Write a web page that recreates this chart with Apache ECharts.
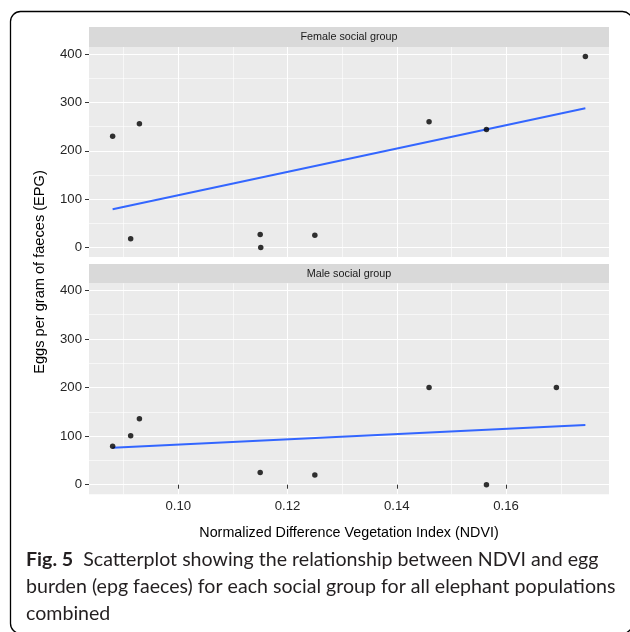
<!DOCTYPE html>
<html>
<head>
<meta charset="utf-8">
<title>NDVI vs EPG</title>
<script src="https://cdn.jsdelivr.net/npm/echarts@6/dist/echarts.min.js"></script>
<style>
    html, body { margin: 0; padding: 0; background: #fff; }
    #main { width: 630px; height: 632px; }
</style>
</head>
<body>
<div id="main"></div>
<script>
// facet labels
var groups = ['Female social group', 'Male social group'];

// NDVI (x) and EPG (y) for each social group
var femaleNdvi = [0.0880, 0.0913, 0.0929, 0.1150, 0.1151, 0.1250, 0.1459, 0.1564, 0.1745];
var femaleEpg  = [230, 18, 256, 27, 0, 25, 260, 244, 395];
var maleNdvi   = [0.0880, 0.0913, 0.0929, 0.1150, 0.1250, 0.1459, 0.1564, 0.1692];
var maleEpg    = [79, 101, 136, 25, 20, 200, 0, 200];

// ends of the fitted lm lines
var fitNdvi      = [0.0880, 0.1745];
var femaleFitEpg = [79, 288];
var maleFitEpg   = [76, 123];

// ticks and minor grid lines
var xTicks = [0.10, 0.12, 0.14, 0.16];
var xMinor = [0.09, 0.11, 0.13, 0.15, 0.17];
var yTicks = [0, 100, 200, 300, 400];
var yMinor = [50, 150, 250, 350];

function pairs(xs, ys) {
    return xs.map(function (x, i) { return [x, ys[i]]; });
}

// ggplot style 5% expansion, same scales in both facets
var allX = femaleNdvi.concat(maleNdvi);
var allY = femaleEpg.concat(maleEpg);
var xLo = Math.min.apply(null, allX), xHi = Math.max.apply(null, allX);
var yLo = Math.min.apply(null, allY), yHi = Math.max.apply(null, allY);
var xMin = xLo - 0.05 * (xHi - xLo), xMax = xHi + 0.05 * (xHi - xLo);
var yMin = yLo - 0.05 * (yHi - yLo), yMax = yHi + 0.05 * (yHi - yLo);

var FONT = 'Liberation Sans, Arial, sans-serif';
var panels = [{top: 47, height: 210, strip: 27}, {top: 283.3, height: 211, strip: 264}];
var PANEL_LEFT = 89, PANEL_W = 520;

var grids = [], xAxes = [], yAxes = [], series = [], graphics = [];

panels.forEach(function (p, g) {
    var bottom = g === 1;
    grids.push({
        left: PANEL_LEFT, top: p.top, width: PANEL_W, height: p.height,
        show: true, backgroundColor: '#EBEBEB', borderWidth: 0
    });
    // major x
    xAxes.push({
        type: 'value', gridIndex: g, min: xMin, max: xMax,
        axisLine: {show: false},
        axisTick: {show: bottom, customValues: xTicks, length: 4, lineStyle: {color: '#333', width: 1}},
        axisLabel: {
            show: bottom, customValues: xTicks, margin: 6,
            color: '#262626', fontSize: 13.2, fontFamily: FONT,
            formatter: function (v) { return v.toFixed(2); }
        },
        splitLine: {show: true, lineStyle: {color: '#fff', width: 1.1}}
    });
    // minor x
    xAxes.push({
        type: 'value', gridIndex: g, min: xMin, max: xMax,
        axisLine: {show: false},
        axisTick: {show: false, customValues: xMinor},
        axisLabel: {show: false, customValues: xMinor},
        splitLine: {show: true, lineStyle: {color: '#fff', width: 0.6}}
    });
    // major y
    yAxes.push({
        type: 'value', gridIndex: g, min: yMin, max: yMax,
        axisLine: {show: false},
        axisTick: {show: true, customValues: yTicks, length: 4, lineStyle: {color: '#333', width: 1}},
        axisLabel: {
            customValues: yTicks, margin: 7,
            color: '#262626', fontSize: 13.2, fontFamily: FONT
        },
        splitLine: {show: true, lineStyle: {color: '#fff', width: 1.1}}
    });
    // minor y
    yAxes.push({
        type: 'value', gridIndex: g, min: yMin, max: yMax,
        axisLine: {show: false},
        axisTick: {show: false, customValues: yMinor},
        axisLabel: {show: false, customValues: yMinor},
        splitLine: {show: true, lineStyle: {color: '#fff', width: 0.6}}
    });

    // facet strip
    graphics.push({
        type: 'rect', silent: true,
        shape: {x: PANEL_LEFT, y: p.strip, width: PANEL_W, height: p.top - p.strip},
        style: {fill: '#D9D9D9'}
    });
    graphics.push({
        type: 'text', silent: true,
        x: PANEL_LEFT + PANEL_W / 2, y: (p.strip + p.top) / 2,
        style: {
            text: groups[g], fill: '#1A1A1A', font: '10.8px ' + FONT,
            align: 'center', verticalAlign: 'middle'
        }
    });
});

var fits = [femaleFitEpg, maleFitEpg];
[[femaleNdvi, femaleEpg], [maleNdvi, maleEpg]].forEach(function (d, g) {
    series.push({
        type: 'scatter', xAxisIndex: 2 * g, yAxisIndex: 2 * g,
        data: pairs(d[0], d[1]),
        symbolSize: 5.5, itemStyle: {color: '#000'}, z: 3
    });
    series.push({
        type: 'line', xAxisIndex: 2 * g, yAxisIndex: 2 * g,
        data: pairs(fitNdvi, fits[g]),
        symbol: 'none', lineStyle: {color: '#3366FF', width: 1.9}, z: 2
    });
});

// axis titles
graphics.push({
    type: 'text', silent: true, x: 40, y: 272, rotation: Math.PI / 2,
    style: {
        text: 'Eggs per gram of faeces (EPG)', fill: '#000', font: '14.6px ' + FONT,
        align: 'center', verticalAlign: 'middle'
    }
});
graphics.push({
    type: 'text', silent: true, x: 349, y: 533,
    style: {
        text: 'Normalized Difference Vegetation Index (NDVI)', fill: '#000', font: '14.3px ' + FONT,
        align: 'center', verticalAlign: 'middle'
    }
});

// figure caption
var CAP = 'Lato, Open Sans, sans-serif';
graphics.push({
    type: 'text', silent: true, x: 26, y: 546,
    style: {
        text: '{b|Fig. 5}{r|  Scatterplot showing the relationship between NDVI and egg}\n' +
              '{r|burden (epg faeces) for each social group for all elephant populations}\n' +
              '{r|combined}',
        rich: {
            b: {fontFamily: CAP, fontWeight: 'bold', fontSize: 19.6, lineHeight: 27, fill: '#231F20'},
            r: {fontFamily: CAP, fontSize: 19.6, lineHeight: 27, fill: '#231F20'}
        },
        verticalAlign: 'top'
    }
});

// frame round the figure, running off the right and bottom edges
graphics.push({
    type: 'rect', silent: true, z: 10,
    shape: {x: 10.5, y: 11.5, width: 622, height: 622, r: 10},
    style: {fill: 'none', stroke: '#000', lineWidth: 1.3}
});

var myChart = echarts.init(document.getElementById('main'));
myChart.setOption({
    animation: false,
    grid: grids,
    xAxis: xAxes,
    yAxis: yAxes,
    series: series,
    graphic: graphics
});
</script>
</body>
</html>
